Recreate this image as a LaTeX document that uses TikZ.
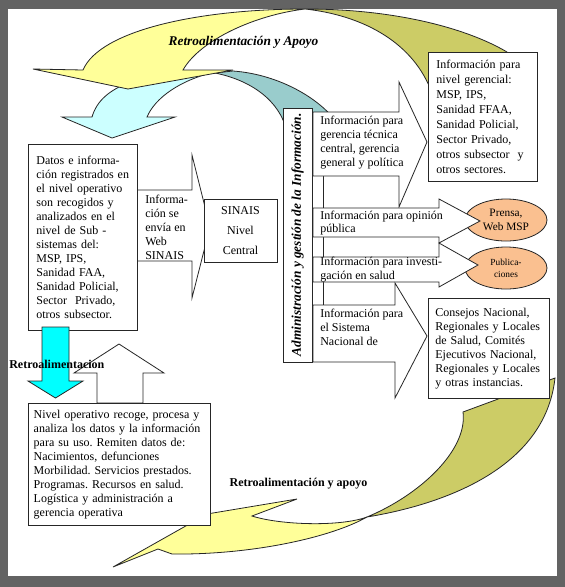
\documentclass[tikz,border=0pt]{standalone}
\usepackage{fontspec}
\setmainfont{Liberation Serif}
\usepackage{xcolor}
\usetikzlibrary{shapes.geometric, positioning}

\definecolor{fbframe}{HTML}{636363}
\definecolor{fbyellow}{HTML}{FFFF99}
\definecolor{fbolive}{HTML}{CCCC66}
\definecolor{fbcyan}{HTML}{CCFFFF}
\definecolor{fbteal}{HTML}{99CCCC}
\definecolor{fbaqua}{HTML}{00FFFF}
\definecolor{fbpeach}{HTML}{FAC090}

\newcommand{\txtnine}{\fontsize{9}{10.5}\selectfont}
\frenchspacing

\begin{document}
\begin{tikzpicture}[
    x=0.75pt, y=-0.75pt,
    outline/.style={draw=black!85, line width=0.6pt},
    blockarrow/.style={outline, fill=white},
    box/.style={rectangle, outline, fill=white, anchor=north west, align=left, inner ysep=0pt, font=\txtnine},
    txt/.style={inner sep=0pt, align=left, font=\txtnine},
    bubble/.style={ellipse, outline, fill=fbpeach, inner sep=0pt, align=center, minimum width=61.5pt, minimum height=31.5pt}
]

% Frame
\fill[fbframe] (0,0) rectangle (565,587);
\fill[white] (8,9) rectangle (557,576);
\useasboundingbox (0,0) rectangle (565,587);

% Top curved arrows (feedback)
\path[outline, fill=fbteal] (215,73) -- (233,71) .. controls (275,74) and (315,95) .. (335,120) -- (300,140) -- (287,132) .. controls (280,100) and (250,80) .. (215,73) -- cycle;
\path[outline, fill=fbcyan] (92,117) -- (62,117) -- (112,138) -- (175,117) -- (147,117) .. controls (155,98) and (180,80) .. (215,72) -- (130,82) .. controls (110,90) and (97,100) .. (92,117) -- cycle;
\path[outline, fill=fbolive] (305,9) .. controls (400,9) and (470,30) .. (507,52) -- (520,85) -- (432,90) -- (430,88) .. controls (410,40) and (360,15) .. (305,9) -- cycle;
\path[outline, fill=fbyellow] (83,70) -- (33,69) -- (128,89) -- (233,70) -- (183,70) .. controls (200,40) and (255,15) .. (305,9) .. controls (200,9) and (100,30) .. (83,70) -- cycle;
\node[txt, font={\fontsize{10}{12}\selectfont\bfseries\itshape}] (retrotop) at (243.5,42) {Retroalimentación y Apoyo};

% Bottom curved arrow
\path[outline, fill=fbolive] (367,517) .. controls (440,505) and (545,470) .. (555,378) -- (463,412) .. controls (468,450) and (420,495) .. (367,517) -- cycle;
\path[outline, fill=fbyellow] (367,517) .. controls (340,527) and (280,525) .. (252,516) -- (297,499) -- (207,514) -- (113,567) -- (158,549) -- (172,554) .. controls (250,555) and (330,538) .. (367,517) -- cycle;

% Sub-systems level
\path[blockarrow] (130,190) -- (192,190) -- (192,155) -- (210,227) -- (192,298) -- (192,261) -- (130,261) -- cycle;
\node[box, text width=69.75pt, inner xsep=6pt, minimum height=139.5pt] (datos) at (28,144) {Datos e informa-\\ción registrados en\\el nivel operativo\\son recogidos y\\analizados en el\\nivel de Sub -\\sistemas del:\\MSP, IPS,\\Sanidad FAA,\\Sanidad Policial,\\Sector~ Privado,\\otros subsector.};
\node[txt, anchor=west] (envia) at (145,227.5) {Informa-\\ción se\\envía en\\Web\\SINAIS};
\node[box, anchor=center, align=center, inner sep=0pt, minimum width=54.75pt, minimum height=47.25pt, font={\fontsize{9}{15}\selectfont}] (sinais) at (240.5,230.5) {SINAIS\\Nivel\\Central};

% Operational level
\path[outline, fill=fbaqua] (42,327) -- (69,327) -- (69,381) -- (83,381) -- (55.5,398) -- (28,381) -- (42,381) -- cycle;
\path[blockarrow] (97,403) -- (97,373) -- (74,373) -- (119,344) -- (164,373) -- (143,373) -- (143,403) -- cycle;
\node[box, text width=128.5pt, inner xsep=4pt, minimum height=91.5pt] (operativo) at (28,403) {Nivel operativo recoge, procesa y\\analiza los datos y la información\\para su uso. Remiten datos de:\\Nacimientos, defunciones\\Morbilidad. Servicios prestados.\\Programas. Recursos en salud.\\Logística y administración a\\gerencia operativa};
\node[txt, anchor=west, font={\fontsize{9}{10.5}\selectfont\bfseries}] (retroleft) at (9,364) {Retroalimentacion};

% Central level: administration of information
\draw[outline] (323,170) -- (323,310);
\node[outline, fill=white, rotate=90, inner sep=0pt, minimum width=190.5pt, minimum height=21.75pt, font={\fontsize{10}{12}\selectfont\bfseries\itshape}] (admin) at (297.5,235) {Administración y gestión de la Información.};

\path[blockarrow] (313,112) -- (399,112) -- (399,82) -- (427,142) -- (399,207) -- (399,176) -- (313,176) -- cycle;
\node[txt, anchor=west] (gerencia) at (320,143) {Información para\\gerencia técnica\\central, gerencia\\general y política};

\node[bubble, font={\fontsize{8.5}{10}\selectfont}] (prensa) at (506,220) {Prensa,\\Web MSP};
\node[bubble, font={\fontsize{7}{9}\selectfont}] (publicaciones) at (506,268) {Publica-\\ciones};

\path[blockarrow] (313,208) -- (439,208) -- (439,199) -- (480,221) -- (439,243) -- (439,237) -- (313,237) -- cycle;
\node[txt, anchor=west, font={\fontsize{9}{10}\selectfont}] (opinion) at (320,223) {Información para opinión\\pública};

\path[blockarrow] (313,257) -- (439,257) -- (439,243) -- (478,265) -- (439,287) -- (439,282) -- (313,282) -- cycle;
\node[txt, anchor=west, font={\fontsize{9}{10}\selectfont}] (investig) at (320,269.5) {Información para investi-\\gación en salud};

\path[blockarrow] (313,305) -- (395,305) -- (395,283) -- (427,336) -- (395,398) -- (395,362) -- (313,362) -- cycle;
\node[txt, anchor=west] (sistema) at (320,327.5) {Información para\\el Sistema\\Nacional de};

% Receivers
\node[box, text width=69.75pt, inner xsep=6pt, minimum height=96.75pt, font={\fontsize{9}{11.25}\selectfont}] (gerencial) at (428,52) {Información para\\nivel gerencial:\\MSP, IPS,\\Sanidad FFAA,\\Sanidad Policial,\\Sector Privado,\\otros subsector~ y\\otros sectores.};
\node[box, text width=80.25pt, inner xsep=5.25pt, minimum height=75pt] (consejos) at (428,298) {Consejos Nacional,\\Regionales y Locales\\de Salud, Comités\\Ejecutivos Nacional,\\Regionales y Locales\\y otras instancias.};

\node[txt, font={\fontsize{9}{10.5}\selectfont\bfseries}] (retrobottom) at (298.5,484) {Retroalimentación y apoyo};

\end{tikzpicture}
\end{document}
